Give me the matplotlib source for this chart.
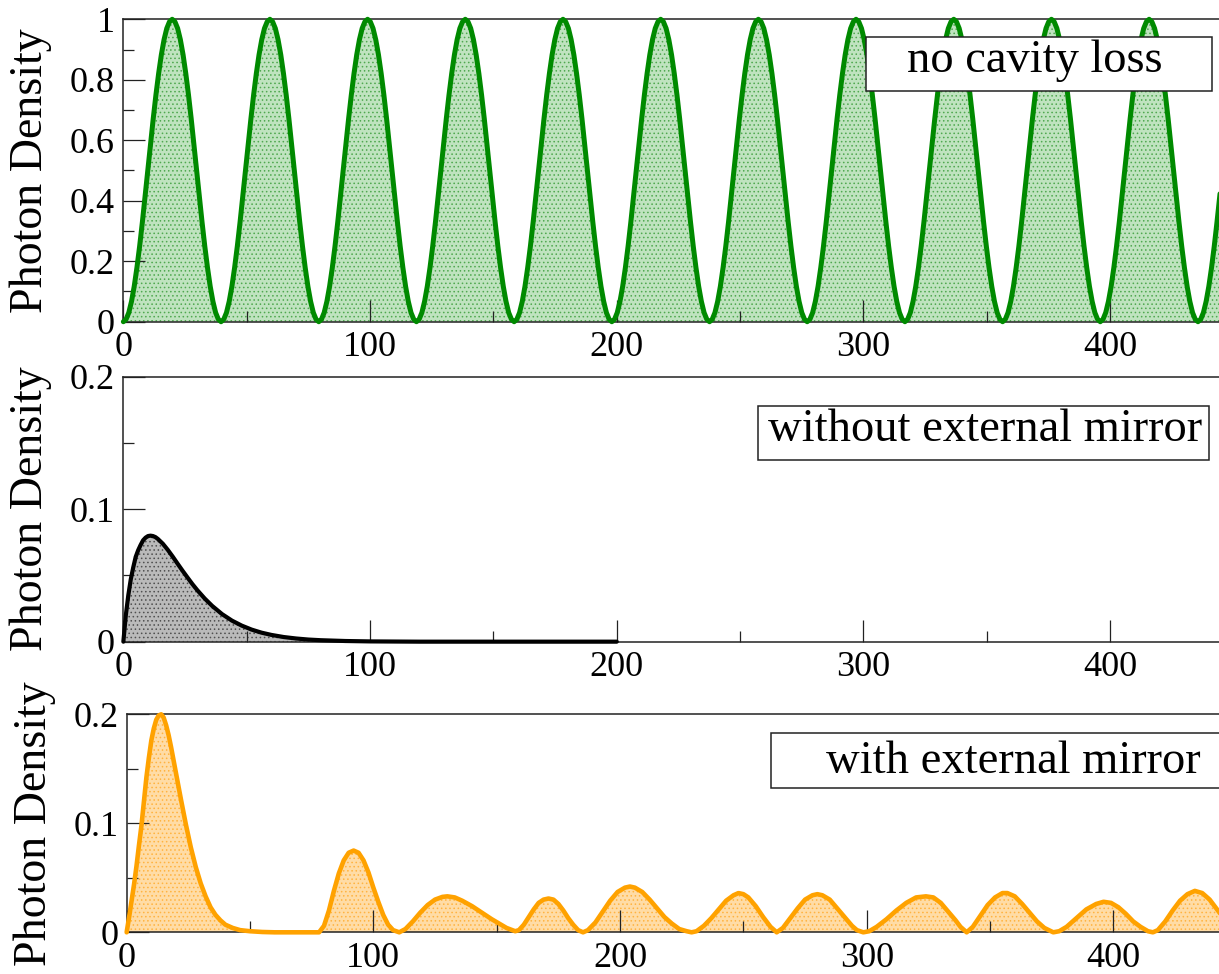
import numpy as np
import matplotlib
matplotlib.use("Agg")
import matplotlib.pyplot as plt
from matplotlib.patches import Rectangle
from matplotlib.ticker import MultipleLocator, FixedFormatter, FixedLocator

plt.rcParams["font.family"] = ["Liberation Serif", "DejaVu Serif"]
plt.rcParams["hatch.linewidth"] = 0.6

# ---------------- data ----------------
# lossless cavity: photon density sampled every 1.1 time units
time_lossless = np.linspace(0.0, 448.8, 409)
density_lossless = [
    0, .008, .030, .067, .117, .179, .25, .329, .413, .5, .587, .671, .75, .821, .883, .933, .970, .992, 1, .992, .970, .933, .883, .821, .75, .671, .587, .5, .413, .329, .25, .179, .117, .067, .030, .008,
    0, .008, .030, .067, .117, .179, .25, .329, .413, .5, .587, .671, .75, .821, .883, .933, .970, .992, 1, .992, .970, .933, .883, .821, .75, .671, .587, .5, .413, .329, .25, .179, .117, .067, .030, .008,
    0, .008, .030, .067, .117, .179, .25, .329, .413, .5, .587, .671, .75, .821, .883, .933, .970, .992, 1, .992, .970, .933, .883, .821, .75, .671, .587, .5, .413, .329, .25, .179, .117, .067, .030, .008,
    0, .008, .030, .067, .117, .179, .25, .329, .413, .5, .587, .671, .75, .821, .883, .933, .970, .992, 1, .992, .970, .933, .883, .821, .75, .671, .587, .5, .413, .329, .25, .179, .117, .067, .030, .008,
    0, .008, .030, .067, .117, .179, .25, .329, .413, .5, .587, .671, .75, .821, .883, .933, .970, .992, 1, .992, .970, .933, .883, .821, .75, .671, .587, .5, .413, .329, .25, .179, .117, .067, .030, .008,
    0, .008, .030, .067, .117, .179, .25, .329, .413, .5, .587, .671, .75, .821, .883, .933, .970, .992, 1, .992, .970, .933, .883, .821, .75, .671, .587, .5, .413, .329, .25, .179, .117, .067, .030, .008,
    0, .008, .030, .067, .117, .179, .25, .329, .413, .5, .587, .671, .75, .821, .883, .933, .970, .992, 1, .992, .970, .933, .883, .821, .75, .671, .587, .5, .413, .329, .25, .179, .117, .067, .030, .008,
    0, .008, .030, .067, .117, .179, .25, .329, .413, .5, .587, .671, .75, .821, .883, .933, .970, .992, 1, .992, .970, .933, .883, .821, .75, .671, .587, .5, .413, .329, .25, .179, .117, .067, .030, .008,
    0, .008, .030, .067, .117, .179, .25, .329, .413, .5, .587, .671, .75, .821, .883, .933, .970, .992, 1, .992, .970, .933, .883, .821, .75, .671, .587, .5, .413, .329, .25, .179, .117, .067, .030, .008,
    0, .008, .030, .067, .117, .179, .25, .329, .413, .5, .587, .671, .75, .821, .883, .933, .970, .992, 1, .992, .970, .933, .883, .821, .75, .671, .587, .5, .413, .329, .25, .179, .117, .067, .030, .008,
    0, .008, .030, .067, .117, .179, .25, .329, .413, .5, .587, .671, .75, .821, .883, .933, .970, .992, 1, .992, .970, .933, .883, .821, .75, .671, .587, .5, .413, .329, .25, .179, .117, .067, .030, .008,
    0, .008, .030, .067, .117, .179, .25, .329, .413, .5, .587, .671, .75,
]

# cavity without external mirror
time_no_mirror = [0, 1, 2, 3, 4, 5, 6, 7, 8, 9, 10, 11, 12, 13, 14, 16, 18, 20, 22, 24,
                  26, 28, 30, 33, 36, 40, 44, 48, 52, 56, 60, 65, 70, 75, 80, 90, 100,
                  110, 120, 140, 160, 180, 200]
density_no_mirror = [0.0, 0.020, 0.035, 0.047, 0.056, 0.064, 0.069, 0.073, 0.0765, 0.0785,
                     0.0797, 0.080, 0.0797, 0.0789, 0.0775, 0.0739, 0.0693, 0.0642, 0.0588,
                     0.0535, 0.0484, 0.0434, 0.0388, 0.0325, 0.0270, 0.0208, 0.0159, 0.0121,
                     0.0091, 0.0068, 0.0051, 0.0035, 0.0024, 0.0016, 0.0011, 0.0005, 0.0002,
                     0.0001, 0.0, 0.0, 0.0, 0.0, 0.0]

# cavity with external mirror
time_mirror = [0, 1, 2, 3, 4, 5, 6, 7, 8, 9, 10, 11, 12, 13, 14, 15, 16, 17, 18, 19, 20,
               22, 24, 26, 28, 30, 32, 34, 36, 38, 40, 43, 46, 50, 55, 60, 70, 78,
               80, 82, 84, 86, 88, 90, 92, 94, 96, 98, 100, 102, 104, 106, 108, 110.5,
               113, 116, 119, 122, 125, 128, 130, 133, 136, 140, 144, 148, 151, 154, 157.5,
               159, 161, 163, 165, 167, 169, 171, 173, 175, 177, 179, 181, 183, 185,
               187, 190, 193, 196, 199, 202, 204, 206, 209, 212, 215, 218, 221, 224, 227, 229,
               231, 234, 237, 240, 243, 246, 248, 250, 252, 255, 258, 261, 263.5,
               266, 269, 272, 275, 278, 280, 282, 285, 288, 291, 294, 296, 298.6,
               301, 304, 308, 312, 316, 320, 324, 327, 330, 333, 336, 338, 340.5,
               343, 346, 349, 352, 355, 357, 360, 363, 366, 369, 372, 375.6,
               378, 381, 385, 389, 393, 396, 399, 402, 405, 408, 411, 414, 416,
               418, 421, 424, 427, 430, 433, 436, 439, 442, 445, 448, 450]
density_mirror = [0.0, 0.014, 0.029, 0.044, 0.061, 0.080, 0.098, 0.120, 0.142, 0.160, 0.176,
                  0.187, 0.195, 0.199, 0.200, 0.197, 0.190, 0.181, 0.170, 0.158, 0.146,
                  0.122, 0.099, 0.078, 0.060, 0.045, 0.033, 0.023, 0.016, 0.011, 0.007,
                  0.004, 0.002, 0.001, 0.0003, 0.0, 0.0, 0.0,
                  0.006, 0.020, 0.038, 0.054, 0.066, 0.073, 0.075, 0.073, 0.066, 0.055,
                  0.041, 0.028, 0.016, 0.007, 0.002, 0.0,
                  0.003, 0.010, 0.018, 0.025, 0.030, 0.0325, 0.033, 0.032, 0.029, 0.024,
                  0.018, 0.012, 0.008, 0.004, 0.001,
                  0.002, 0.007, 0.014, 0.021, 0.027, 0.030, 0.031, 0.030, 0.026, 0.020,
                  0.013, 0.007, 0.002, 0.0,
                  0.002, 0.009, 0.019, 0.029, 0.037, 0.041, 0.042, 0.041, 0.037, 0.030,
                  0.022, 0.014, 0.008, 0.003, 0.001, 0.0,
                  0.001, 0.006, 0.013, 0.021, 0.029, 0.034, 0.036, 0.035, 0.032, 0.024,
                  0.014, 0.005, 0.0,
                  0.004, 0.013, 0.022, 0.030, 0.034, 0.035, 0.034, 0.030, 0.022, 0.014,
                  0.006, 0.002, 0.0,
                  0.001, 0.005, 0.012, 0.020, 0.027, 0.032, 0.033, 0.032, 0.027, 0.019,
                  0.011, 0.005, 0.0,
                  0.005, 0.015, 0.025, 0.032, 0.036, 0.036, 0.033, 0.026, 0.018, 0.010,
                  0.004, 0.0,
                  0.001, 0.005, 0.013, 0.021, 0.026, 0.028, 0.027, 0.023, 0.017, 0.010,
                  0.005, 0.001, 0.0,
                  0.002, 0.010, 0.020, 0.029, 0.035, 0.038, 0.036, 0.030, 0.021, 0.012,
                  0.006, 0.003]

panel_labels = ["no cavity loss", "without external mirror", "with external mirror"]
x_ticks = [0, 100, 200, 300, 400]
x_tick_labels = ["0", "100", "200", "300", "400"]
y_ticks_top = [0, 0.2, 0.4, 0.6, 0.8, 1.0]
y_tick_labels_top = ["0", "0.2", "0.4", "0.6", "0.8", "1"]
y_ticks_low = [0, 0.1, 0.2]
y_tick_labels_low = ["0", "0.1", "0.2"]

# ---------------- figure ----------------
fig = plt.figure(figsize=(12.19, 9.74), dpi=100)

ax_top = fig.add_axes([0.1012, 0.6697, 0.9107, 0.3105])
ax_mid = fig.add_axes([0.1012, 0.3412, 0.9107, 0.2721])
ax_bot = fig.add_axes([0.1039, 0.0428, 0.9107, 0.2238])

series = [
    (ax_top, time_lossless, density_lossless, "#008a00", "#bfe3bf", "#4fa84f", 3.6),
    (ax_mid, time_no_mirror, density_no_mirror, "#000000", "#bababa", "#505050", 3.0),
    (ax_bot, time_mirror, density_mirror, "#ffa200", "#ffdca6", "#ffb340", 3.3),
]

for ax, xs, ys, lc, fc, hc, lw in series:
    ax.fill_between(xs, ys, 0, facecolor=fc, edgecolor=hc, hatch="....",
                    linewidth=0, zorder=1)
    ax.plot(xs, ys, color=lc, lw=lw, solid_capstyle="round",
            solid_joinstyle="round", zorder=3, clip_on=False)

ax_top.set_ylim(0, 1)
ax_mid.set_ylim(0, 0.2)
ax_bot.set_ylim(0, 0.2)

for ax in (ax_top, ax_mid, ax_bot):
    ax.set_xlim(0, 450)
    ax.xaxis.set_major_locator(FixedLocator(x_ticks))
    ax.xaxis.set_major_formatter(FixedFormatter(x_tick_labels))
    ax.xaxis.set_minor_locator(MultipleLocator(50))
    for side in ("top", "left", "bottom", "right"):
        ax.spines[side].set_linewidth(1.1)
        ax.spines[side].set_color("#222222")
    ax.spines["right"].set_visible(False)
    ax.tick_params(axis="both", which="both", direction="in", color="#222222",
                   width=0.9, labelsize=26, top=False, right=False)
    ax.tick_params(axis="both", which="major", length=16)
    ax.tick_params(axis="both", which="minor", length=8)
    ax.tick_params(axis="x", which="major", pad=7)
    ax.tick_params(axis="y", which="major", pad=6)
    ax.set_ylabel("Photon Density", fontsize=33)
    ax.yaxis.set_label_coords(-0.064, 0.5)

ax_top.yaxis.set_major_locator(FixedLocator(y_ticks_top))
ax_top.yaxis.set_major_formatter(FixedFormatter(y_tick_labels_top))
ax_top.yaxis.set_minor_locator(MultipleLocator(0.1))
for ax in (ax_mid, ax_bot):
    ax.yaxis.set_major_locator(FixedLocator(y_ticks_low))
    ax.yaxis.set_major_formatter(FixedFormatter(y_tick_labels_low))
    ax.yaxis.set_minor_locator(MultipleLocator(0.05))

# framed panel captions
captions = [
    (ax_top, panel_labels[0], (0.669, 0.763, 0.312, 0.179), (0.8213, 0.8267)),
    (ax_mid, panel_labels[1], (0.5718, 0.6857, 0.4062, 0.2037), (0.7762, 0.7574)),
    (ax_bot, panel_labels[2], (0.5804, 0.662, 0.4366, 0.252), (0.7989, 0.7294)),
]
for ax, text, (bx, by, bw, bh), (tx, ty) in captions:
    ax.add_patch(Rectangle((bx, by), bw, bh, transform=ax.transAxes,
                           facecolor="white", edgecolor="#222222", lw=1.1,
                           zorder=5, clip_on=False))
    ax.text(tx, ty, text, transform=ax.transAxes, ha="center", va="baseline",
            fontsize=33.5, zorder=6)

fig.savefig("out.png", dpi=100)
